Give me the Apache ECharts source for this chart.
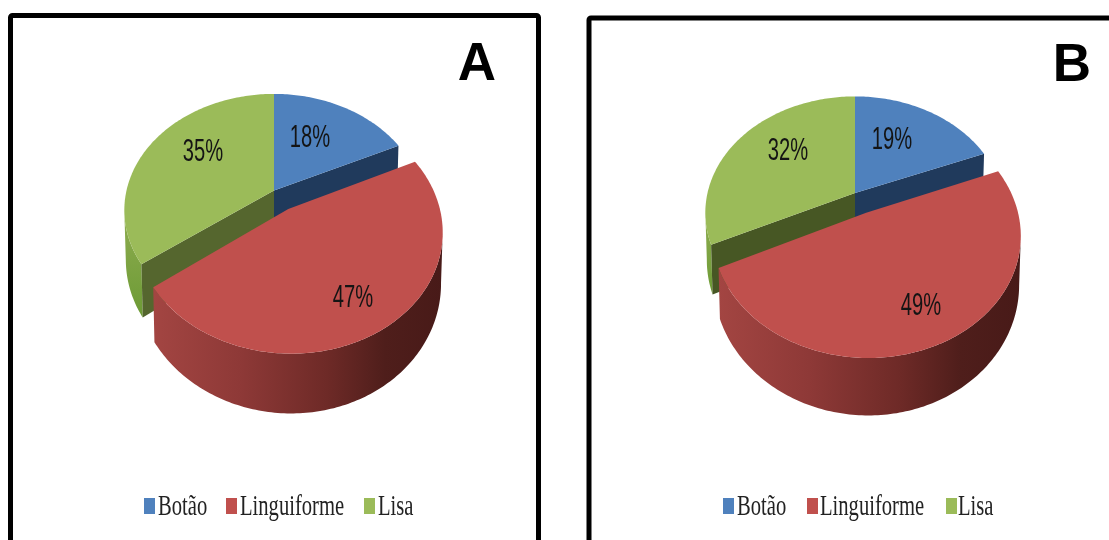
<!DOCTYPE html>
<html>
<head>
<meta charset="utf-8">
<style>html,body{margin:0;padding:0;background:#fff}#c{width:1109px;height:540px}</style>
<script src="https://cdn.jsdelivr.net/npm/echarts@6/dist/echarts.min.js"></script>
</head>
<body>
<div id="c"></div>
<script>
// Share of each class, per panel
const categories = ['Botão', 'Linguiforme', 'Lisa'];
const valuesA = [18, 47, 35];
const valuesB = [19, 49, 32];
const panelNames = ['A', 'B'];

const topColors = ['#4F81BD', '#C0504D', '#9BBB59'];
const cutColors = ['#203A5C', '#7A2E2C', '#55662E'];
const cutColorsB = ['#203A5C', '#7A2E2C', '#475724'];

// Perspective disc: a/b are the radii, k the foreshortening
const DISC = { a: 147.5, b: 113, k: 0.17, shrink: 0.01, explode: 0.185 };

const panels = [
  { values: valuesA, cx: 274, cy: 190.5, h: 48, cuts: cutColors, name: panelNames[0],
    labels: [[310, 138], [353, 298], [203, 152]] },
  { values: valuesB, cx: 855, cy: 193, h: 46, cuts: cutColorsB, name: panelNames[1],
    labels: [[892, 140], [921, 306], [788, 151]] }
];

const explodedIndex = 1;

function project(p, u, v, z) {
  const f = 1 / (1 - DISC.k * v);
  return [
    p.cx + DISC.a * u * f * (1 - DISC.shrink * z),
    p.cy + (DISC.b * v + p.h * z) * f
  ];
}

function rimPoint(p, deg, off, z) {
  const t = deg * Math.PI / 180;
  return project(p, Math.sin(t) + off[0], -Math.cos(t) + off[1], z);
}

function arcPoints(p, from, to, off, z) {
  const pts = [];
  const n = Math.max(2, Math.ceil(to - from));
  for (let i = 0; i <= n; i++) pts.push(rimPoint(p, from + (to - from) * i / n, off, z));
  return pts;
}

function extremeIndex(pts, sign) {
  let best = 0;
  pts.forEach((pt, i) => { if (sign * pt[0] > sign * pts[best][0]) best = i; });
  return best;
}

// Visible part of the outer wall: the rim stops at the silhouette tangent
function wallPoints(idx, top, bottom) {
  if (idx === explodedIndex) {
    return top.slice(extremeIndex(top, 1))
      .concat(bottom.slice(extremeIndex(bottom, 1)).reverse());
  }
  return top.slice(0, extremeIndex(top, -1) + 1)
    .concat(bottom.slice(0, extremeIndex(bottom, -1) + 1).reverse());
}

function wallFill(idx) {
  if (idx === 1) {
    return new echarts.graphic.LinearGradient(0, 0, 1, 0, [
      { offset: 0, color: '#A34542' },
      { offset: 0.3, color: '#8E3937' },
      { offset: 0.6, color: '#6E2A27' },
      { offset: 0.8, color: '#4F1E1B' },
      { offset: 1, color: '#481A18' }
    ]);
  }
  return new echarts.graphic.LinearGradient(0, 0, 0, 1, [
    { offset: 0, color: '#8FAD50' },
    { offset: 1, color: '#6C9A35' }
  ]);
}

function makeRenderItem(p) {
  return function (params, api) {
    const idx = api.value(3);
    const start = api.value(0) * 3.6;
    const end = api.value(1) * 3.6;
    const value = api.value(2);
    let off = [0, 0];
    if (idx === explodedIndex) {
      const mid = (start + end) / 2 * Math.PI / 180;
      off = [DISC.explode * Math.sin(mid), -DISC.explode * Math.cos(mid)];
    }
    const exploded = idx === explodedIndex;
    const apexTop = project(p, off[0], off[1], 0);
    const apexBottom = project(p, off[0], off[1], 1);
    const rimTop = arcPoints(p, start, end, off, 0);
    const rimBottom = arcPoints(p, start, end, off, 1);
    const children = [];

    // outer wall; the first slice sits at the back and shows none
    if (idx !== 0) {
      children.push({
        type: 'polygon',
        z2: exploded ? 4 : 1,
        shape: { points: wallPoints(idx, rimTop, rimBottom) },
        style: { fill: wallFill(idx) }
      });
    }
    // radial faces exposed by the pulled-out slice
    if (!exploded) {
      const rimIdx = idx === 0 ? rimTop.length - 1 : 0;
      children.push({
        type: 'polygon',
        z2: 2,
        shape: { points: [apexTop, rimTop[rimIdx], rimBottom[rimIdx], apexBottom] },
        style: { fill: p.cuts[idx] }
      });
    }
    // top face
    children.push({
      type: 'polygon',
      z2: exploded ? 5 : 3,
      shape: { points: [apexTop].concat(rimTop) },
      style: { fill: topColors[idx] }
    });
    // percentage label, set tall and narrow
    children.push({
      type: 'text',
      z2: 6,
      x: p.labels[idx][0],
      y: p.labels[idx][1],
      scaleX: 0.63,
      style: {
        text: value + '%',
        font: '32px "Liberation Sans Narrow", "Liberation Sans"',
        fill: '#141414',
        align: 'center',
        verticalAlign: 'middle'
      }
    });
    return { type: 'group', children };
  };
}

function sliceData(values) {
  let acc = 0;
  return values.map((v, i) => {
    const row = [acc, acc + v, v, i];
    acc += v;
    return row;
  });
}

// Frames, panel letters and legend rows
const frames = [
  { x: 10.5, y: 15.5, width: 528, height: 560 },
  { x: 589, y: 18, width: 560, height: 560 }
];
const letterPos = [[477, 65], [1072, 66]];
const legendRows = [
  { swatch: [144, 226, 364], text: [158, 240, 378] },
  { swatch: [723, 807, 946], text: [737, 820, 958] }
];

const graphicEls = [];
frames.forEach(fr => graphicEls.push({
  type: 'rect',
  shape: { x: fr.x, y: fr.y, width: fr.width, height: fr.height, r: 2 },
  style: { fill: 'none', stroke: '#000', lineWidth: 5 }
}));
panelNames.forEach((n, i) => graphicEls.push({
  type: 'text',
  x: letterPos[i][0],
  y: letterPos[i][1],
  style: {
    text: n,
    font: 'bold 53px "Liberation Sans"',
    fill: '#000',
    align: 'center',
    verticalAlign: 'middle'
  }
}));
legendRows.forEach(row => {
  categories.forEach((name, i) => {
    graphicEls.push({
      type: 'rect',
      shape: { x: row.swatch[i], y: 498, width: 11, height: 16 },
      style: { fill: topColors[i] }
    });
    graphicEls.push({
      type: 'text',
      x: row.text[i],
      y: 507,
      scaleX: 0.71,
      style: {
        text: name,
        font: '29px "Liberation Serif"',
        fill: '#222',
        align: 'left',
        verticalAlign: 'middle'
      }
    });
  });
});

const chart = echarts.init(document.getElementById('c'), null, { renderer: 'canvas' });
chart.setOption({
  animation: false,
  backgroundColor: '#fff',
  graphic: { elements: graphicEls },
  series: panels.map(p => ({
    type: 'custom',
    name: p.name,
    coordinateSystem: 'none',
    renderItem: makeRenderItem(p),
    data: sliceData(p.values),
    silent: true,
    clip: false
  }))
});
</script>
</body>
</html>
